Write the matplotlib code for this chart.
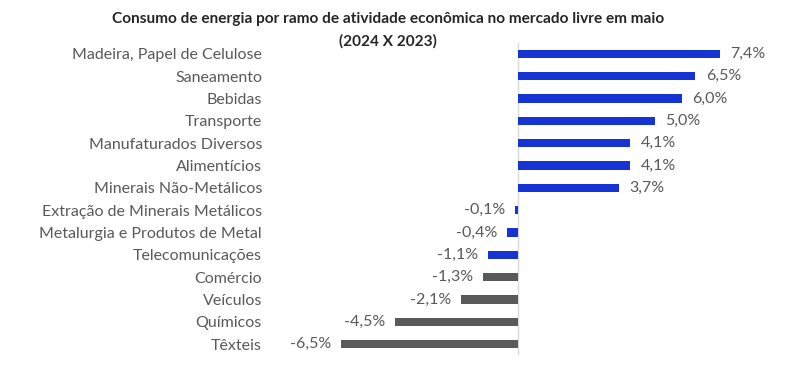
import matplotlib.pyplot as plt

# dados do grafico
ramos = ['Madeira, Papel de Celulose', 'Saneamento', 'Bebidas', 'Transporte',
         'Manufaturados Diversos', 'Alimentícios', 'Minerais Não-Metálicos',
         'Extração de Minerais Metálicos', 'Metalurgia e Produtos de Metal',
         'Telecomunicações', 'Comércio', 'Veículos', 'Químicos', 'Têxteis']
variacao = [7.4, 6.5, 6.0, 5.0, 4.1, 4.1, 3.7, -0.1, -0.4, -1.1, -1.3, -2.1, -4.5, -6.5]
destaque = [True] * 10 + [False] * 4

AZUL = '#1633d4'
CINZA = '#595959'

plt.rcParams['font.family'] = ['Lato', 'DejaVu Sans']

fig = plt.figure(figsize=(7.98, 3.83), dpi=100)
ax = fig.add_axes([330 / 798, 28 / 383, 450 / 798, 312 / 383])

pos = list(range(len(ramos)))
cores = [AZUL if d else CINZA for d in destaque]
ax.barh(pos, variacao, height=0.37, color=cores)
ax.axvline(0, color='#d9d9d9', lw=1, zorder=0)

ax.set_xlim(-(518 - 330) / 27.3, (780 - 518) / 27.3)
ax.set_ylim(len(ramos) - 0.51, -0.49)

for y, v in zip(pos, variacao):
    txt = f'{v:.1f}%'.replace('.', ',')
    if v >= 0:
        ax.annotate(txt, (v, y), xytext=(7.5, 0), textcoords='offset points',
                    ha='left', va='center', fontsize=11.5, color=CINZA)
    else:
        ax.annotate(txt, (v, y), xytext=(-7, 0), textcoords='offset points',
                    ha='right', va='center', fontsize=11.5, color=CINZA)

ax.set_yticks(pos)
ax.set_yticklabels(ramos, fontsize=11.5, color=CINZA)
ax.tick_params(axis='y', length=0, pad=(330 - 262) * 0.72)
ax.set_xticks([])
for s in ax.spines.values():
    s.set_visible(False)

fig.text(388 / 798, 1 - 19 / 383, 'Consumo de energia por ramo de atividade econômica no mercado livre em maio',
         ha='center', va='center', fontsize=11.1, fontweight='bold', color='#262626')
fig.text(388 / 798, 1 - 41 / 383, '(2024 X 2023)',
         ha='center', va='center', fontsize=11.1, fontweight='bold', color='#262626')

fig.savefig('out.png', dpi=100)
